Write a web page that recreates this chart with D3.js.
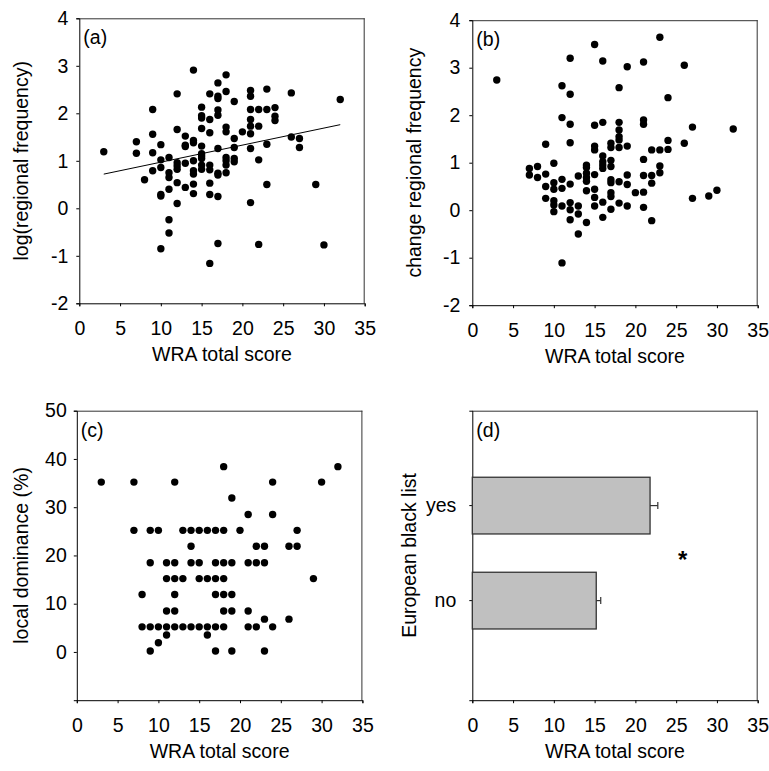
<!DOCTYPE html>
<html><head><meta charset="utf-8">
<script src="https://cdn.jsdelivr.net/npm/d3@7"></script>
<style>body{margin:0;background:#fff}svg{display:block}text{font-family:"Liberation Sans",Arial,sans-serif;fill:#000}</style>
</head><body>
<svg id="chart" width="769" height="771"></svg>
<script>
// ---- data ----
const scoreTicks = [0,5,10,15,20,25,30,35];
const logTicks = [-2,-1,0,1,2,3,4];
const domTicks = [0,10,20,30,40,50];

// (a) WRA total score vs log(regional frequency)
const logFreqPoints = [
[3,1.19],
[7,1.40],[7,1.16],
[8,0.60],
[9,2.08],[9,1.56],[9,1.17],[9,0.79],
[10,1.34],[10,1.02],[10,0.86],[10,0.29],[10,0.26],[10,-0.85],
[11,1.07],[11,0.75],[11,0.65],[11,0.40],[11,-0.24],[11,-0.52],
[12,2.41],[12,1.66],[12,0.96],[12,0.89],[12,0.82],[12,0.54],[12,0.10],
[13,1.52],[13,1.33],[13,1.30],[13,0.95],[13,0.44],
[14,2.91],[14,1.43],[14,1.38],[14,1.00],[14,0.79],[14,0.72],[14,0.51],[14,0.31],
[15,2.13],[15,1.95],[15,1.90],[15,1.68],[15,1.31],[15,1.15],[15,1.10],[15,1.05],[15,0.91],[15,0.82],
[16,2.41],[16,1.87],[16,1.59],[16,0.91],[16,0.81],[16,0.53],[16,0.29],[16,-1.16],
[17,2.64],[17,2.36],[17,2.31],[17,2.07],[17,1.96],[17,1.26],[17,0.74],[17,0.70],[17,0.25],[17,-0.74],
[18,2.81],[18,2.46],[18,1.71],[18,1.61],[18,1.07],[18,1.00],[18,0.91],[18,0.75],
[19,2.25],[19,1.47],[19,1.28],[19,1.05],[19,0.98],
[20,1.61],
[21,2.48],[21,2.36],[21,2.08],[21,1.87],[21,1.73],[21,1.57],[21,1.26],[21,0.12],
[22,2.08],[22,1.73],[22,1.02],[22,-0.76],
[23,2.51],[23,2.08],[23,1.35],[23,0.50],
[24,2.12],[24,1.94],[24,1.85],
[26,2.43],[26,1.50],
[27,1.47],[27,1.28],
[29,0.50],[30,-0.77],[32,2.29]
];
// fitted regression line (intercept, slope) and its x extent
const logFreqFit = [0.612, 0.0359];
const logFreqFitRange = [3, 32];

// (b) WRA total score vs change in regional frequency
const changeFreqPoints = [
[3,2.74],
[7,0.88],[7,0.74],
[8,0.92],[8,0.69],
[9,1.39],[9,0.76],[9,0.50],[9,0.25],
[10,0.99],[10,0.58],[10,0.44],[10,0.20],[10,0.11],[10,-0.03],
[11,2.62],[11,1.95],[11,0.65],[11,0.46],[11,0.09],[11,-1.11],
[12,3.20],[12,2.44],[12,1.81],[12,1.42],[12,0.55],[12,0.16],[12,0.01],[12,-0.20],
[13,0.72],[13,0.09],[13,-0.08],[13,-0.50],
[14,0.95],[14,0.90],[14,0.78],[14,0.69],[14,0.61],[14,0.41],[14,-0.26],
[15,3.49],[15,1.79],[15,1.35],[15,1.27],[15,0.75],[15,0.44],[15,0.27],[15,0.09],
[16,3.14],[16,1.85],[16,1.14],[16,1.02],[16,0.95],[16,0.88],[16,0.17],[16,-0.15],
[17,1.41],[17,1.32],[17,1.05],[17,0.92],[17,0.64],[17,0.58],[17,0.37],[17,0.29],[17,0.02],
[18,2.58],[18,1.85],[18,1.69],[18,1.55],[18,1.48],[18,1.32],[18,0.60],[18,0.15],
[19,3.02],[19,1.35],[19,0.74],[19,0.54],[19,0.09],
[20,0.37],
[21,3.12],[21,1.90],[21,1.81],[21,1.07],[21,0.73],[21,0.38],[21,0.06],
[22,1.27],[22,0.73],[22,0.57],[22,-0.22],
[23,3.64],[23,1.27],[23,0.93],[23,0.79],
[24,2.37],[24,1.47],[24,1.28],
[26,3.05],[26,1.41],
[27,1.75],[27,0.25],
[29,0.30],[30,0.42],[32,1.71]
];

// (c) WRA total score vs local dominance (%)
const dominancePoints = [
[18,38.4],[32,38.4],
[3,35.2],[7,35.2],[12,35.2],[24,35.2],[30,35.2],
[19,31.9],
[21,28.5],[24,28.5],
[7,25.2],[9,25.2],[10,25.2],[13,25.2],[14,25.2],[15,25.2],[16,25.2],[17,25.2],[18,25.2],[20,25.2],[27,25.2],
[14,21.9],[22,21.9],[23,21.9],[26,21.9],[27,21.9],
[9,18.5],[11,18.5],[12,18.5],[14,18.5],[15,18.5],[17,18.5],[18,18.5],[19,18.5],[21,18.5],[22,18.5],[23,18.5],
[11,15.2],[12,15.2],[13,15.2],[15,15.2],[16,15.2],[17,15.2],[18,15.2],[29,15.2],
[8,11.9],[12,11.9],[17,11.9],[18,11.9],[19,11.9],
[11,8.5],[12,8.5],[18,8.5],[19,8.5],[21,8.5],
[23,6.8],[26,6.8],
[8,5.2],[9,5.2],[10,5.2],[11,5.2],[12,5.2],[13,5.2],[14,5.2],[15,5.2],[16,5.2],[17,5.2],[18,5.2],[21,5.2],[22,5.2],[24,5.2],
[11,3.5],[16,3.5],
[10,1.9],
[9,0.2],[17,0.2],[19,0.2],[23,0.2]
];

// (d) mean WRA total score by European black list membership
const blackListCats = ["yes","no"];
const blackListMeans = [21.8, 15.2];
const blackListErrors = [0.95, 0.55];

// ---- drawing ----
const svg = d3.select("#chart");
const FS = 19.5;
const fmt = d => String(d);

function frame(g, x, y, w, h){
  g.append("line").attr("x1",x).attr("x2",x+w).attr("y1",y+0.5).attr("y2",y+0.5).attr("stroke","#333");
  g.append("line").attr("x1",x+w-0.5).attr("x2",x+w-0.5).attr("y1",y).attr("y2",y+h).attr("stroke","#333");
}

function panel(opt){
  const g = svg.append("g");
  const x = d3.scaleLinear().domain([0,35]).range([opt.left, opt.left+opt.w]);
  let y;
  if (opt.band) {
    y = d3.scaleBand().domain(opt.band).range([opt.top, opt.top+opt.h])
          .paddingInner(0.403).paddingOuter(0.725).align(0.483);
  } else {
    y = d3.scaleLinear().domain(opt.ydom).range([opt.top+opt.h, opt.top]);
  }
  frame(g, opt.left, opt.top, opt.w, opt.h);
  // x axis
  const xa = g.append("g").attr("transform",`translate(0,${opt.top+opt.h})`)
    .call(d3.axisBottom(x).tickValues(scoreTicks).tickFormat(fmt).tickSize(3).tickPadding(15));
  xa.select(".domain").attr("stroke","#000");
  xa.selectAll("text").attr("font-size",FS).attr("font-family","Liberation Sans, Arial");
  // y axis
  let ya;
  if (opt.band) {
    ya = g.append("g").attr("transform",`translate(${opt.left},0)`)
      .call(d3.axisLeft(y).tickSize(3).tickPadding(13));
  } else {
    ya = g.append("g").attr("transform",`translate(${opt.left},0)`)
      .call(d3.axisLeft(y).tickValues(opt.yticks).tickFormat(fmt).tickSize(3).tickPadding(opt.ypad));
  }
  ya.select(".domain").attr("stroke","#000");
  ya.selectAll("text").attr("font-size",FS).attr("font-family","Liberation Sans, Arial");
  // titles
  g.append("text").attr("x",opt.left+opt.w/2).attr("y",opt.top+opt.h+58)
    .attr("text-anchor","middle").attr("font-size",FS).text("WRA total score");
  g.append("text").attr("transform",`translate(${opt.ytx},${opt.top+opt.h/2}) rotate(-90)`)
    .attr("text-anchor","middle").attr("font-size",FS).text(opt.ytitle);
  g.append("text").attr("x",opt.left+4).attr("y",opt.top+26).attr("font-size",FS).text(opt.tag);
  return {g,x,y};
}

function dots(p, pts){
  p.g.append("g").selectAll("circle").data(pts).join("circle")
    .attr("cx",d=>p.x(d[0])).attr("cy",d=>p.y(d[1])).attr("r",3.7).attr("fill","#000");
}

// (a)
const pa = panel({left:79.3, top:18.3, w:285.4, h:285, ydom:[-2,4], yticks:logTicks, ypad:8,
  ytitle:"log(regional frequency)", ytx:28, tag:"(a)"});
dots(pa, logFreqPoints);
pa.g.append("line")
  .attr("x1",pa.x(logFreqFitRange[0])).attr("y1",pa.y(logFreqFit[0]+logFreqFit[1]*logFreqFitRange[0]))
  .attr("x2",pa.x(logFreqFitRange[1])).attr("y2",pa.y(logFreqFit[0]+logFreqFit[1]*logFreqFitRange[1]))
  .attr("stroke","#000").attr("stroke-width",1);

// (b)
const pb = panel({left:472.3, top:20.2, w:285.4, h:285, ydom:[-2,4], yticks:logTicks, ypad:9,
  ytitle:"change regional frequency", ytx:421, tag:"(b)"});
dots(pb, changeFreqPoints);

// (c)
const pc = panel({left:76.8, top:410.7, w:285.6, h:289.5, ydom:[-10,50], yticks:domTicks, ypad:7,
  ytitle:"local dominance (%)", ytx:28, tag:"(c)"});
dots(pc, dominancePoints);

// (d)
const pd = panel({left:472.3, top:410.7, w:285.4, h:289.5, band:blackListCats,
  ytitle:"European black list", ytx:416, tag:"(d)"});
const bars = blackListCats.map((c,i)=>({c, v:blackListMeans[i], e:blackListErrors[i]}));
pd.g.append("g").selectAll("rect").data(bars).join("rect")
  .attr("x",pd.x(0)).attr("y",d=>pd.y(d.c)).attr("width",d=>pd.x(d.v)-pd.x(0))
  .attr("height",pd.y.bandwidth()).attr("fill","#c0c0c0").attr("stroke","#333").attr("stroke-width",1.3);
const eb = pd.g.append("g").attr("stroke","#333").attr("stroke-width",1.2);
eb.selectAll("line.h").data(bars).join("line").attr("class","h")
  .attr("x1",d=>pd.x(d.v)).attr("x2",d=>pd.x(d.v+d.e))
  .attr("y1",d=>pd.y(d.c)+pd.y.bandwidth()/2).attr("y2",d=>pd.y(d.c)+pd.y.bandwidth()/2);
eb.selectAll("line.c").data(bars).join("line").attr("class","c")
  .attr("x1",d=>pd.x(d.v+d.e)).attr("x2",d=>pd.x(d.v+d.e))
  .attr("y1",d=>pd.y(d.c)+pd.y.bandwidth()/2-3.5).attr("y2",d=>pd.y(d.c)+pd.y.bandwidth()/2+3.5);
pd.g.append("text").attr("x",pd.x(25.8)).attr("y",(pd.y("yes")+pd.y("no")+pd.y.bandwidth())/2+15)
  .attr("text-anchor","middle").attr("font-size",24).attr("font-weight","bold").text("*");
</script>
</body></html>
